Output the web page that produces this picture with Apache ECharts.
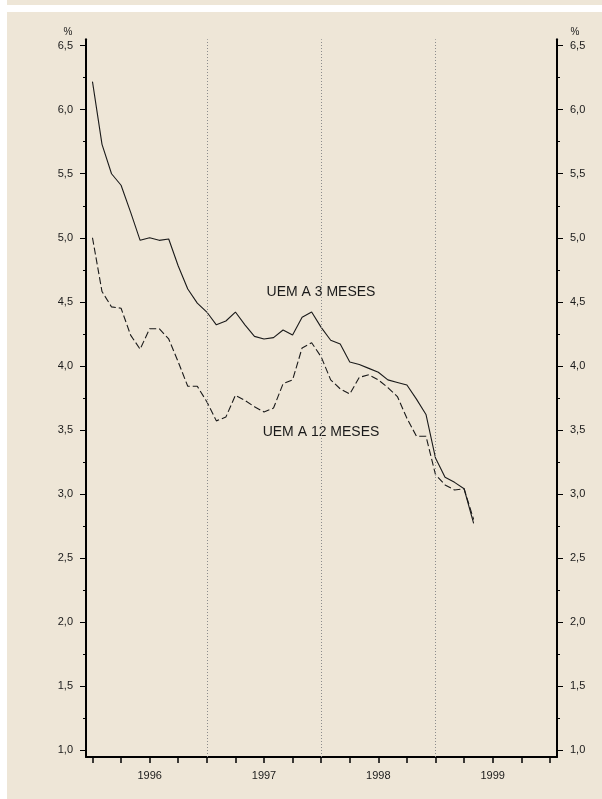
<!DOCTYPE html>
<html>
<head>
<meta charset="utf-8">
<script src="https://cdn.jsdelivr.net/npm/echarts@6/dist/echarts.min.js"></script>
<style>
  html, body { margin: 0; padding: 0; background: #ffffff; }
  #wrap { position: relative; width: 602px; height: 799px; overflow: hidden; }
  .panel { position: absolute; background: #eee6d7; }
  #chart { position: absolute; left: 0; top: 0; width: 602px; height: 799px; }
</style>
</head>
<body>
<div id="wrap">
  <div class="panel" style="left:7px; top:0; width:595px; height:5px;"></div>
  <div class="panel" style="left:7px; top:12px; width:595px; height:787px;"></div>
  <div id="chart"></div>
</div>
<script>
// Monthly rates, January 1996 to May 1999 (%)
const years = ['1996', '1997', '1998', '1999'];
const uem3m = [
  6.22, 5.73, 5.50, 5.41, 5.20, 4.98, 5.00, 4.98, 4.99, 4.78, 4.60, 4.49,
  4.42, 4.32, 4.35, 4.42, 4.32, 4.23, 4.21, 4.22, 4.28, 4.24, 4.38, 4.42,
  4.30, 4.20, 4.17, 4.03, 4.01, 3.98, 3.95, 3.89, 3.87, 3.85, 3.74, 3.62,
  3.28, 3.13, 3.09, 3.04, 2.77
];
const uem12m = [
  5.00, 4.58, 4.46, 4.45, 4.24, 4.13, 4.29, 4.29, 4.21, 4.03, 3.84, 3.84,
  3.72, 3.57, 3.60, 3.77, 3.73, 3.68, 3.64, 3.67, 3.86, 3.89, 4.14, 4.18,
  4.07, 3.89, 3.82, 3.78, 3.91, 3.93, 3.89, 3.83, 3.76, 3.59, 3.45, 3.45,
  3.15, 3.07, 3.03, 3.04, 2.80
];
const yMajor = [1.0, 1.5, 2.0, 2.5, 3.0, 3.5, 4.0, 4.5, 5.0, 5.5, 6.0, 6.5];
const yMinor = [1.25, 1.75, 2.25, 2.75, 3.25, 3.75, 4.25, 4.75, 5.25, 5.75, 6.25];
const quarterTicks = [0, 3, 6, 9, 12, 15, 18, 21, 24, 27, 30, 33, 36, 39, 42, 45, 48];
const yearMid = [6, 18, 30, 42];
const yearBounds = [12, 24, 36];
const seriesNames = ['UEM A 3 MESES', 'UEM A 12 MESES'];

const FONT = '"Liberation Sans", Arial, sans-serif';
const INK = '#1a1a1a';
const Y_MIN = 0.945, Y_MAX = 6.55;

function toPairs(arr) { return arr.map((v, i) => [i, v]); }

function yAxisDef(pos, values, tickLen, showLine, showLabel, nameText) {
  return {
    type: 'value', position: pos, min: Y_MIN, max: Y_MAX, offset: 0,
    splitLine: { show: false },
    axisLine: { show: showLine, onZero: false, lineStyle: { color: '#000', width: 2 } },
    axisTick: { show: true, customValues: values, length: tickLen, lineStyle: { color: '#000', width: 1 } },
    axisLabel: {
      show: showLabel, customValues: values, margin: 13,
      color: INK, fontFamily: FONT, fontSize: 11,
      formatter: v => v.toFixed(1).replace('.', ',')
    },
    name: nameText || '',
    nameLocation: 'end', nameGap: 2,
    nameTextStyle: {
      color: INK, fontFamily: FONT, fontSize: 10, align: 'center',
      padding: pos === 'left' ? [0, 36, 0, 0] : [0, 0, 0, 36]
    }
  };
}

const chart = echarts.init(document.getElementById('chart'), null, { renderer: 'canvas' });
chart.setOption({
  animation: false,
  backgroundColor: 'transparent',
  grid: { left: 86, right: 45, top: 39.3, bottom: 42, containLabel: false, outerBoundsMode: 'none' },
  xAxis: {
    type: 'value', min: -0.68, max: 48.75,
    splitLine: { show: false },
    axisLine: { onZero: false, lineStyle: { color: '#000', width: 2 } },
    axisTick: { customValues: quarterTicks, length: 6, lineStyle: { color: '#000', width: 1.5 } },
    axisLabel: {
      customValues: yearMid, margin: 13, color: INK, fontFamily: FONT, fontSize: 11,
      formatter: v => years[Math.round((v - 6) / 12)]
    }
  },
  yAxis: [
    yAxisDef('left', yMajor, 6, true, true, '%'),
    yAxisDef('right', yMajor, 6, true, true, '%'),
    yAxisDef('left', yMinor, 3, false, false),
    yAxisDef('right', yMinor, 3, false, false)
  ],
  series: [
    {
      name: seriesNames[0], type: 'line', data: toPairs(uem3m),
      symbol: 'none', lineStyle: { color: INK, width: 1.1 },
      markLine: {
        silent: true, symbol: 'none', label: { show: false },
        lineStyle: { color: '#8c8c8c', type: [1, 2], width: 1 },
        data: yearBounds.map(x => ({ xAxis: x }))
      },
      z: 3
    },
    {
      name: seriesNames[1], type: 'line', data: toPairs(uem12m),
      symbol: 'none', lineStyle: { color: INK, width: 1.1, type: [7, 3] },
      z: 3
    }
  ],
  graphic: [
    { type: 'text', x: 321, y: 292, style: { text: seriesNames[0], fill: INK, font: '14px ' + FONT, align: 'center', verticalAlign: 'middle' } },
    { type: 'text', x: 321, y: 432, style: { text: seriesNames[1], fill: INK, font: '14px ' + FONT, align: 'center', verticalAlign: 'middle' } }
  ]
});
</script>
</body>
</html>
